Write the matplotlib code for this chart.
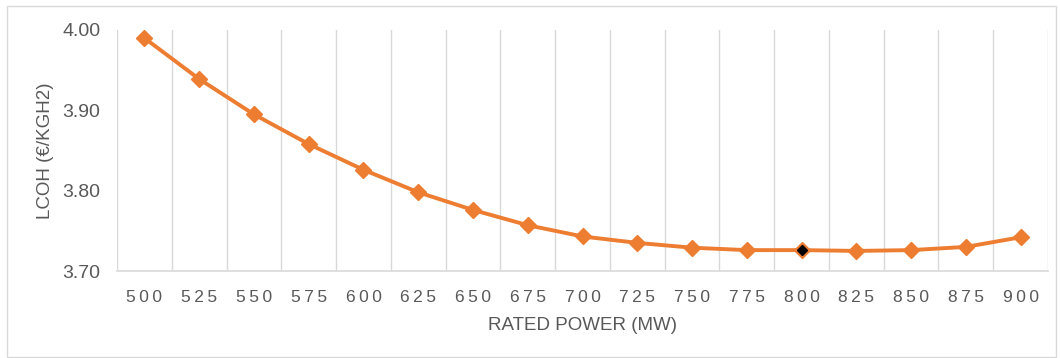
import numpy as np
import matplotlib.pyplot as plt
from matplotlib.patches import Rectangle

# rated power (MW) and levelised cost of hydrogen
rated_power = [500, 525, 550, 575, 600, 625, 650, 675, 700,
               725, 750, 775, 800, 825, 850, 875, 900]
lcoh = [3.990, 3.939, 3.895, 3.858, 3.826, 3.798, 3.776, 3.757, 3.743,
        3.735, 3.729, 3.726, 3.726, 3.725, 3.726, 3.730, 3.742]
optimum_power = 800

plt.rcParams['font.family'] = ['Liberation Sans', 'DejaVu Sans']
grey = '#595959'
orange = '#ED7D31'

fig = plt.figure(figsize=(10.6, 3.58), dpi=100)
ax = fig.add_axes([117 / 1060, 1 - 271 / 358, 931 / 1060, 241 / 358])

x = np.arange(len(rated_power))
ax.plot(x, lcoh, color=orange, linewidth=2.8, marker='D', markersize=8.5,
        zorder=3, clip_on=False)
i_opt = rated_power.index(optimum_power)
ax.plot(x[i_opt], lcoh[i_opt], marker='D', color='black', markersize=5.5,
        zorder=4)

ax.set_xlim(-0.5, len(rated_power) - 0.5)
ax.set_ylim(3.70, 4.00)
ax.set_yticks([3.70, 3.80, 3.90, 4.00])
ax.set_yticklabels([f"{v:.2f}" for v in [3.70, 3.80, 3.90, 4.00]])
ax.set_xticks(x)
# spaced-out digits on the category axis
ax.set_xticklabels(['\u2009'.join(str(p)) for p in rated_power])

# vertical gridlines between categories
for b in np.arange(-0.5, len(rated_power), 1.0):
    ax.axvline(b, color='#D9D9D9', linewidth=1.0, zorder=1)

for s in ['top', 'right', 'left']:
    ax.spines[s].set_visible(False)
ax.spines['bottom'].set_color('#D9D9D9')
ax.spines['bottom'].set_linewidth(1.2)

ax.tick_params(axis='both', length=0, colors=grey)
ax.tick_params(axis='x', pad=14, labelsize=12.5)
ax.tick_params(axis='y', pad=12, labelsize=14)

ax.set_xlabel('RATED POWER (MW)', color=grey, fontsize=13.5, labelpad=8)
ax.set_ylabel('LCOH (€/KGH2)', color=grey, fontsize=13.5, labelpad=6)

# chart area border
fig.patches.append(Rectangle((7 / 1060, 1 / 358), 1049 / 1060, 351 / 358,
                             transform=fig.transFigure, fill=False,
                             edgecolor='#D9D9D9', linewidth=1.0))

fig.savefig('out.png', dpi=100)
